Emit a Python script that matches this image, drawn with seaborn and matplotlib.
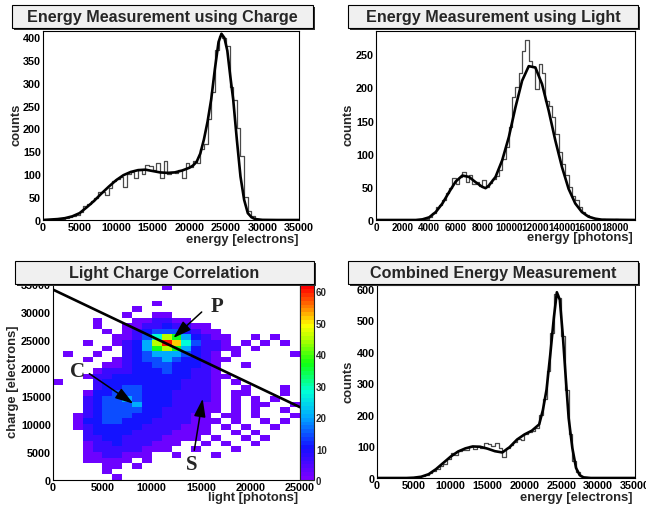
import numpy as np
import pandas as pd
import matplotlib
matplotlib.use("Agg")
import matplotlib.pyplot as plt
import seaborn as sns
from matplotlib.colors import LinearSegmentedColormap
from matplotlib.patches import Rectangle
from matplotlib.ticker import MultipleLocator

# ---------------- data ----------------
# charge spectrum, 500 electron bins from 0
charge_counts = [1, 1, 1, 2, 2, 3, 4, 6, 8, 10,
                 18, 30, 35, 42, 48, 62, 62, 55, 70, 86,
                 90, 95, 72, 100, 105, 92, 110, 100, 120, 118,
                 110, 125, 92, 128, 100, 105, 102, 110, 92, 125,
                 115, 128, 125, 155, 165, 220, 280, 372, 402, 398,
                 380, 290, 262, 200, 140, 50, 20, 8, 3, 1,
                 1, 0, 0, 1, 0, 0, 0, 0, 0, 0]
charge_fit_x = [0, 1000, 2000, 3000, 4000, 5000, 6000, 7000, 8000, 9000, 10000,
                11000, 12000, 13000, 14000, 15000, 16000, 17000, 18000, 19000,
                20000, 20500, 21000, 21500, 22000, 22500, 23000, 23500, 24000,
                24400, 24800, 25200, 25600, 26000, 26500, 27000, 27500, 28000,
                28500, 29000, 30000, 32000, 35000]
charge_fit_y = [0, 1, 2, 4, 8, 15, 28, 42, 58, 73, 87,
                98, 105, 109, 110, 107, 104, 103, 104, 108,
                114, 119, 127, 145, 176, 215, 264, 330, 389,
                407, 398, 370, 315, 264, 176, 95, 44, 15,
                6, 2, 0.3, 0, 0]

# light spectrum, 250 photon bins from 0
light_counts = [0] * 14 + [1, 2, 5, 11, 20, 22, 30, 40, 48, 63,
                           55, 65, 72, 58, 68, 55, 58, 52, 60, 50,
                           56, 62, 66, 75, 92, 110, 140, 185, 200, 222,
                           255, 272, 240, 230, 198, 235, 222, 180, 172, 155,
                           130, 102, 85, 68, 50, 36, 30, 20, 12, 8,
                           5, 3, 2, 1, 1, 0, 0, 0, 1, 0,
                           0, 0, 0, 0]
light_fit_x = [0, 3000, 3500, 4000, 4500, 5000, 5500, 6000, 6500, 7000, 7500,
               8000, 8250, 8500, 9000, 9500, 10000, 10500, 11000, 11500, 12000,
               12500, 13000, 13500, 14000, 14500, 15000, 15500, 16000, 16500,
               17000, 19500]
light_fit_y = [0, 0, 1, 4, 12, 25, 42, 58, 67, 65, 57,
               50, 48, 52, 65, 90, 125, 170, 210, 232, 230,
               205, 165, 120, 80, 47, 25, 12, 5, 2,
               0.5, 0]

# combined spectrum, 500 electron bins from 0
combined_counts = [0, 0, 0, 0, 0, 0, 0, 0, 1, 1,
                   2, 3, 5, 8, 15, 22, 28, 38, 45, 60,
                   80, 72, 85, 90, 88, 100, 92, 102, 95, 112,
                   108, 100, 110, 95, 68, 95, 105, 115, 125, 120,
                   138, 145, 150, 160, 200, 250, 340, 460, 585, 570,
                   450, 280, 140, 55, 18, 5, 2, 1, 0, 0,
                   0, 0, 0, 0, 0, 0, 0, 0, 0, 0]
combined_fit_x = [0, 4000, 5000, 6000, 7000, 8000, 9000, 10000, 11000, 12000,
                  13000, 14000, 15000, 16000, 17000, 18000, 19000, 20000, 21000,
                  22000, 22500, 23000, 23500, 24000, 24400, 24800, 25200, 25600,
                  26000, 26500, 27000, 27500, 28000, 29000, 35000]
combined_fit_y = [0, 0, 1, 4, 12, 28, 48, 68, 84, 94,
                  100, 99, 93, 85, 81, 98, 122, 138, 150,
                  170, 215, 280, 390, 510, 589, 565, 455, 320,
                  190, 95, 32, 9, 2, 0, 0]

# light/charge correlation: 1000 x 1000 cells, rows from charge 35000 down to 0,
# columns light 0..25000; characters are colour levels
corr_levels = {".": np.nan, "1": 2, "2": 7, "3": 10, "4": 14, "5": 20,
               "6": 28, "7": 36, "8": 45, "9": 52, "R": 60}
corr_rows = [
    "...........1.............",
    ".........................",
    ".........................",
    "..........1..............",
    "........1................",
    ".......1..11.............",
    "....1...112211...........",
    "....1..112232211.........",
    ".....1.1234443211........",
    "......112468753211..1.1..",
    "...1..12358R964221.1.1.1.",
    ".....1.235787532211.1....",
    ".1..1..2345554321.1.....1",
    "...1..123445433211.......",
    ".....112334433321..1.....",
    "....1222333433221........",
    "...122333333332211.......",
    "1...2333333332221.1......",
    "....2334433332221..1...1.",
    "...13344433322221.11...1.",
    "...23445433322221.1.1.1..",
    "...23444533322211.1.11..1",
    "...23444433222211.1.1..1.",
    "..12344433322211.11.1...1",
    "..133443332222111.1..1.1.",
    "..12333332222111.1.1..1..",
    "...2333322221111..1.1....",
    "...223322221111.1..1.1...",
    "...1223222111..1.1..1....",
    "...122222111..1...1......",
    "...1122111..1...1........",
    "...11111.1...............",
    ".....11.1................",
    ".....1...................",
    "......1..................",
]
cut_light = [0, 25000]
cut_charge = [34000, 13000]

marker_labels = ["P", "C", "S"]
marker_text_xy = [(16600, 31100), (2480, 19470), (14070, 2860)]
marker_tail_xy = [(15050, 30000), (3680, 18990), (14300, 5300)]
marker_head_xy = [(12180, 25360), (8130, 13630), (15150, 14520)]

# ---------------- figure ----------------
W, H = 646, 506
sns.set_style("white")
plt.rcParams["font.family"] = ["Liberation Sans", "DejaVu Sans"]
plt.rcParams["font.weight"] = "bold"

fig = plt.figure(figsize=(W / 100, H / 100), dpi=100)


def px_rect(x0, y0, x1, y1):
    return [x0 / W, 1 - y1 / H, (x1 - x0) / W, (y1 - y0) / H]


def title_box(x0, y0, x1, y1, text):
    fig.add_artist(Rectangle(((x0 + 2) / W, 1 - (y1 + 2) / H), (x1 - x0) / W, (y1 - y0) / H,
                             transform=fig.transFigure, facecolor="#303030",
                             edgecolor="none", zorder=1))
    fig.add_artist(Rectangle((x0 / W, 1 - y1 / H), (x1 - x0) / W, (y1 - y0) / H,
                             transform=fig.transFigure, facecolor="#f0f0f0",
                             edgecolor="black", lw=0.8, zorder=2))
    fig.text((x0 + x1) / 2 / W, 1 - (y0 + y1) / 2 / H, text, ha="center", va="center",
             fontsize=11.6, zorder=3)


def fig_label(x, y, text, **kw):
    fig.text(x / W, 1 - y / H, text, fontsize=9.4, **kw)


def root_axes(ax, xmax, ymax, xmaj, xmin, ymaj, ymin, xsize=7.8):
    ax.set_xlim(0, xmax)
    ax.set_ylim(0, ymax)
    ax.xaxis.set_major_locator(MultipleLocator(xmaj))
    ax.xaxis.set_minor_locator(MultipleLocator(xmin))
    ax.yaxis.set_major_locator(MultipleLocator(ymaj))
    ax.yaxis.set_minor_locator(MultipleLocator(ymin))
    ax.tick_params(which="both", direction="in", top=False, right=False,
                   labelsize=7.8, width=0.8, pad=1.5, colors="black")
    ax.tick_params(axis="x", labelsize=xsize)
    ax.tick_params(which="major", length=6)
    ax.tick_params(which="minor", length=3)
    for sp in ax.spines.values():
        sp.set_linewidth(0.8)
        sp.set_color("black")
    ax.set_xlabel("")
    ax.set_ylabel("")


def spectrum(ax, counts, width, fit_x, fit_y):
    df = pd.DataFrame({"energy": (np.arange(len(counts)) + 0.5) * width,
                       "counts": counts})
    sns.histplot(data=df, x="energy", weights="counts", binwidth=width,
                 binrange=(0, len(counts) * width), element="step", fill=False,
                 color="#4a4a4a", linewidth=0.9, ax=ax)
    sns.lineplot(x=fit_x, y=fit_y, color="black", linewidth=1.9, ax=ax)


# panel 1: charge
ax1 = fig.add_axes(px_rect(43, 32, 299, 221))
spectrum(ax1, charge_counts, 500, charge_fit_x, charge_fit_y)
root_axes(ax1, 35000, 413, 5000, 1000, 50, 10)
title_box(12, 6, 313, 29, "Energy Measurement using Charge")
fig_label(16, 125, "counts", rotation=90, ha="center", va="center")
fig_label(298, 240, "energy [electrons]", ha="right", va="center")

# panel 2: light
ax2 = fig.add_axes(px_rect(376, 32, 635, 221))
spectrum(ax2, light_counts, 250, light_fit_x, light_fit_y)
root_axes(ax2, 19500, 285, 2000, 500, 50, 10, xsize=7.1)
title_box(348, 6, 638, 29, "Energy Measurement using Light")
fig_label(348, 125, "counts", rotation=90, ha="center", va="center")
fig_label(633, 238, "energy [photons]", ha="right", va="center")

# panel 3: correlation
ax3 = fig.add_axes(px_rect(53, 285, 300, 481))
grid = np.array([[corr_levels[c] for c in row] for row in corr_rows], dtype=float)[::-1]
light_edges = np.arange(grid.shape[1] + 1) * 1000
charge_edges = np.arange(grid.shape[0] + 1) * 1000
root_cmap = LinearSegmentedColormap.from_list(
    "root", [(0.0, "#7a00ff"), (0.16, "#1410ff"), (0.32, "#00a8ff"), (0.45, "#00ffd8"),
             (0.6, "#10ff10"), (0.72, "#a8ff00"), (0.8, "#ffff00"), (0.88, "#ff9000"),
             (1.0, "#ff0000")], N=50)
mesh = ax3.pcolormesh(light_edges, charge_edges, np.ma.masked_invalid(grid),
                      cmap=root_cmap, vmin=0, vmax=62)
sns.lineplot(x=cut_light, y=cut_charge, color="black", linewidth=1.9, ax=ax3)
for lab, txy, tail, head in zip(marker_labels, marker_text_xy, marker_tail_xy, marker_head_xy):
    ax3.annotate("", xy=head, xytext=tail,
                 arrowprops=dict(arrowstyle="-|>,head_length=1.0,head_width=0.32",
                                 color="black", lw=1.1, shrinkA=0, shrinkB=0,
                                 mutation_scale=11))
    ax3.text(txy[0], txy[1], lab, family="Liberation Serif", fontsize=15,
             ha="center", va="center")
root_axes(ax3, 25000, 35000, 5000, 1000, 5000, 1000)
title_box(15, 262, 314, 285, "Light Charge Correlation")
fig_label(13, 382, "charge [electrons]", rotation=90, ha="center", va="center")
fig_label(298, 498, "light [photons]", ha="right", va="center")

cax = fig.add_axes(px_rect(300, 286, 314, 481))
cbar = fig.colorbar(mesh, cax=cax, ticks=list(range(0, 61, 10)))
cbar.outline.set_linewidth(0.8)
cax.tick_params(direction="in", length=4, width=0.8, labelsize=7, pad=1.5)

# panel 4: combined
ax4 = fig.add_axes(px_rect(377, 286, 635, 479))
spectrum(ax4, combined_counts, 500, combined_fit_x, combined_fit_y)
root_axes(ax4, 35000, 612, 5000, 1000, 100, 20)
title_box(348, 262, 638, 285, "Combined Energy Measurement")
fig_label(349, 382, "counts", rotation=90, ha="center", va="center")
fig_label(633, 498, "energy [electrons]", ha="right", va="center")

fig.savefig("out.png", dpi=100)
